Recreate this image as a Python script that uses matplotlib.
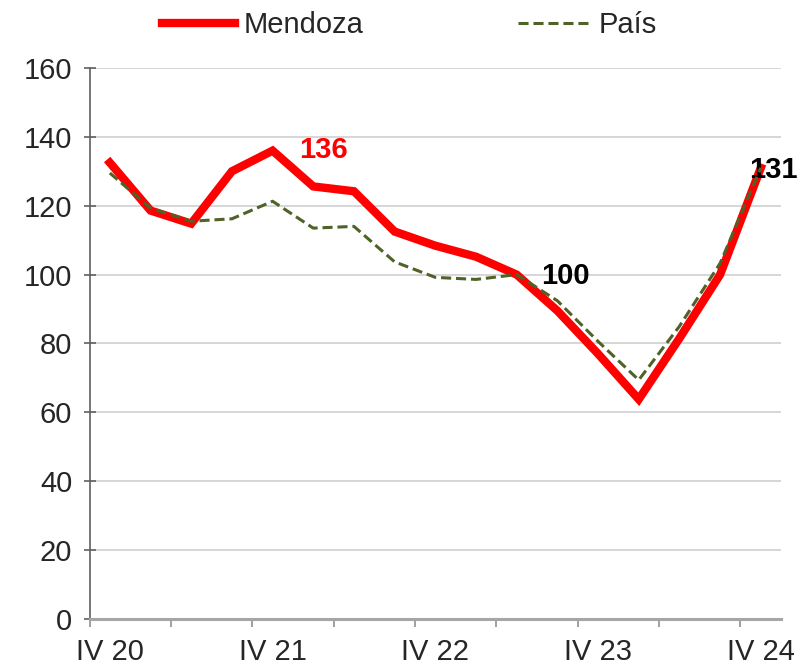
import matplotlib
matplotlib.use("Agg")
import matplotlib.pyplot as plt
import matplotlib.ticker as mticker

plt.rcParams["font.family"] = ["Liberation Sans", "DejaVu Sans"]

quarters = ["IV 20", "I 21", "II 21", "III 21", "IV 21", "I 22", "II 22", "III 22",
            "IV 22", "I 23", "II 23", "III 23", "IV 23", "I 24", "II 24", "III 24", "IV 24"]
mendoza = [132.5, 118.6, 114.8, 130.0, 136.0, 125.6, 124.2, 112.5,
           108.4, 105.2, 100.0, 89.5, 77.0, 63.8, 81.5, 100.0, 131.0]
pais = [129.5, 119.3, 115.5, 116.2, 121.3, 113.5, 114.0, 103.7,
        99.2, 98.6, 100.0, 92.4, 80.6, 69.4, 85.0, 103.3, 131.0]
label_quarters = ["IV 20", "IV 21", "IV 22", "IV 23", "IV 24"]

RED = "#FF0000"
OLIVE = "#4F6228"
TXT = "#262626"
FS = 21


def main():
    fig = plt.figure(figsize=(8.02, 6.71), dpi=100)
    ax = fig.add_axes([0.1116, 0.0775, 0.8624, 0.8212])

    x = list(range(len(quarters)))
    ax.plot(x, mendoza, color=RED, lw=6, solid_joinstyle="miter", label="Mendoza", zorder=3)
    ax.plot(x, pais, color=OLIVE, lw=2.2, ls=(0, (3.3, 1.6)), label="País", zorder=4)

    ax.set_xlim(-0.5, len(quarters) - 0.5)
    ax.set_ylim(0, 160)
    ax.yaxis.set_major_locator(mticker.MultipleLocator(20))
    ax.grid(axis="y", color="#D0D0D0", lw=1.2)
    ax.set_axisbelow(True)

    # ticks between categories every two quarters, labels on IV quarters
    ax.set_xticks([i - 0.5 for i in range(0, len(quarters) + 1, 2)])
    ax.set_xticklabels([])
    ax.set_xticks([quarters.index(q) for q in label_quarters], minor=True)
    ax.set_xticklabels(label_quarters, minor=True)
    ax.tick_params(axis="x", which="major", length=6, color="#909090", width=1.2)
    ax.tick_params(axis="x", which="minor", length=0, pad=14, labelsize=FS, labelcolor=TXT)
    ax.tick_params(axis="y", direction="inout", length=9, color="#606060", width=1.2,
                   labelsize=FS, labelcolor=TXT, pad=8)

    for side in ["top", "right"]:
        ax.spines[side].set_visible(False)
    ax.spines["left"].set_color("#606060")
    ax.spines["left"].set_linewidth(1.2)
    ax.spines["bottom"].set_color("#A6A6A6")
    ax.spines["bottom"].set_linewidth(2.2)

    i_max = mendoza.index(max(mendoza))
    ax.text(i_max + 1.24, 136.2, f"{mendoza[i_max]:.0f}", color=RED,
            fontsize=FS, fontweight="bold", ha="center", va="center")
    ax.text(11.2, 99.6, f"{mendoza[10]:.0f}", color="black",
            fontsize=FS, fontweight="bold", ha="center", va="center")
    ax.text(16.3, 130.4, f"{mendoza[16]:.0f}", color="black",
            fontsize=FS, fontweight="bold", ha="center", va="center", clip_on=False)

    fig.legend(loc="center", bbox_to_anchor=(0.511, 0.962), ncol=2, frameon=False,
               fontsize=FS, handlelength=2.5, handletextpad=0.28, columnspacing=5.3,
               labelcolor=TXT)

    fig.savefig("out.png", dpi=100)
    plt.close(fig)


if __name__ == "__main__":
    main()
